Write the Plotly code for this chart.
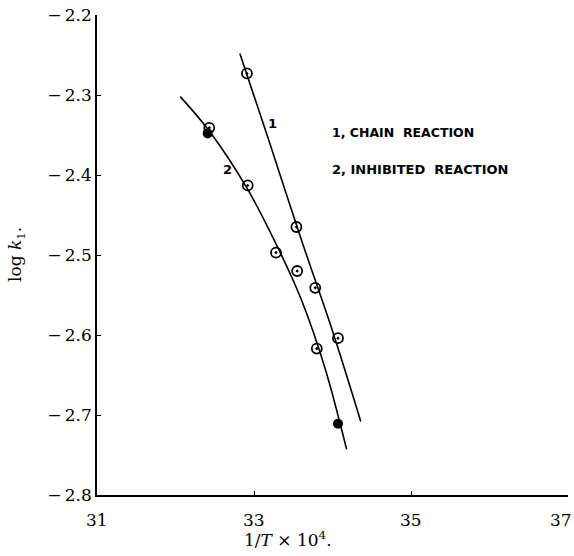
import plotly.graph_objects as go

# Data points (1/T x 10^4, log k1)
chain_x = [32.91, 33.54, 33.78, 34.07]
chain_y = [-2.273, -2.465, -2.541, -2.604]
inhib_x = [32.43, 32.92, 33.28, 33.55, 33.80]
inhib_y = [-2.341, -2.413, -2.497, -2.520, -2.617]
filled_x = [32.41, 34.07]
filled_y = [-2.348, -2.711]

# Fitted curves
curve1_x = [32.82, 33.2, 33.6, 34.0, 34.36]
curve1_y = [-2.248, -2.360, -2.480, -2.595, -2.708]
curve2_x = [32.06, 32.43, 32.92, 33.3, 33.6, 33.9, 34.18]
curve2_y = [-2.302, -2.345, -2.418, -2.49, -2.555, -2.64, -2.743]

x_ticks = [31, 33, 35, 37]
y_ticks = [-2.8, -2.7, -2.6, -2.5, -2.4, -2.3, -2.2]
y_tick_text = ["\u2212\u2009" + f"{abs(v):.1f}" for v in y_ticks]

serif = "DejaVu Serif"
fig = go.Figure()
fig.add_trace(go.Scatter(x=curve1_x, y=curve1_y, mode="lines",
                         line=dict(color="black", width=1.6, shape="spline"), showlegend=False))
fig.add_trace(go.Scatter(x=curve2_x, y=curve2_y, mode="lines",
                         line=dict(color="black", width=1.6, shape="spline"), showlegend=False))
fig.add_trace(go.Scatter(x=chain_x, y=chain_y, mode="markers",
                         marker=dict(symbol="circle-open-dot", size=10, color="black",
                                     line=dict(width=1.8, color="black")), showlegend=False))
fig.add_trace(go.Scatter(x=inhib_x, y=inhib_y, mode="markers",
                         marker=dict(symbol="circle-open-dot", size=10, color="black",
                                     line=dict(width=1.8, color="black")), showlegend=False))
fig.add_trace(go.Scatter(x=filled_x, y=filled_y, mode="markers",
                         marker=dict(symbol="circle", size=10, color="black"), showlegend=False))

fig.update_layout(
    width=574, height=556,
    margin=dict(l=97, r=6, t=15, b=61),
    plot_bgcolor="white", paper_bgcolor="white",
    font=dict(family=serif, color="black", size=17),
)
fig.update_xaxes(range=[31, 37], tickvals=x_ticks, showticklabels=False,
                 showline=True, linecolor="black", linewidth=1.5, ticks="inside", ticklen=4,
                 tickcolor="black", showgrid=False, zeroline=False)
fig.update_yaxes(range=[-2.8, -2.2], tickvals=y_ticks, ticktext=y_tick_text,
                 showline=True, linecolor="black", linewidth=1.5, ticks="inside", ticklen=4,
                 tickcolor="black", showgrid=False, zeroline=False, tickfont=dict(family=serif, size=17))

L, R, T, B = 97, 568, 15, 495

def px_ann(px, py, text, size, family=serif, xanchor="center", angle=0):
    return dict(x=(px - L) / (R - L), y=(B - py) / (B - T), xref="paper", yref="paper",
                text=text, showarrow=False, xanchor=xanchor, yanchor="middle",
                textangle=angle, font=dict(family=family, size=size, color="black"))

ann = []
# x tick labels (drawn as annotations so the last one at the edge is not dropped)
for i, v in enumerate(x_ticks):
    last = i == len(x_ticks) - 1
    ann.append(dict(x=v, y=(B - 520) / (B - T), xref="x", yref="paper", text=str(v),
                    showarrow=False, xanchor="right" if last else "center", yanchor="middle",
                    xshift=6 if last else 0,
                    font=dict(family=serif, size=17, color="black")))
ann += [
    px_ann(288, 539, "1/<i>T</i> \u00d7 10<sup>4</sup>.", 17),
    px_ann(16, 255, "log <i>k</i><sub>1</sub>.", 17, angle=-90),
    px_ann(272, 124, "<b>1</b>", 13, family="DejaVu Sans"),
    px_ann(227, 170, "<b>2</b>", 13, family="DejaVu Sans"),
    px_ann(330, 132, "<b>1, CHAIN  REACTION</b>", 12.5, family="DejaVu Sans", xanchor="left"),
    px_ann(330, 169, "<b>2, INHIBITED  REACTION</b>", 13, family="DejaVu Sans", xanchor="left"),
]
fig.update_layout(annotations=ann)

fig.write_html("out.html")
